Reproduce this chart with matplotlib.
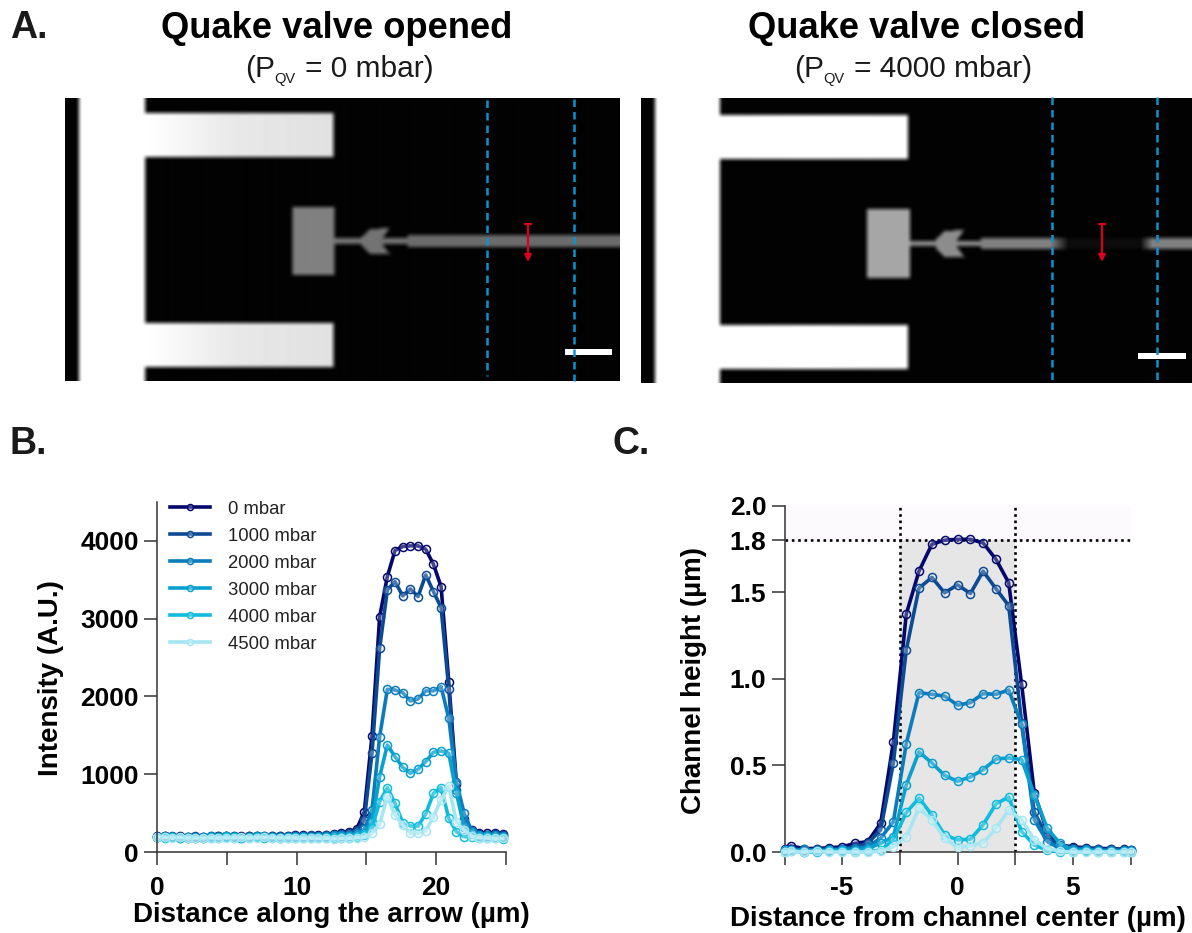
import matplotlib
matplotlib.use("Agg")
import matplotlib.pyplot as plt
import numpy as np
from matplotlib.path import Path as MplPath

W, H = 1192, 933

plt.rcParams["font.family"] = ["Liberation Sans", "DejaVu Sans"]

pressures = ["0 mbar", "1000 mbar", "2000 mbar", "3000 mbar", "4000 mbar", "4500 mbar"]
colors = ["#05086b", "#0d4a94", "#0a7cbc", "#07a0cf", "#0fbcdc", "#a6e6f2"]

# panel B
distance = [0.0, 0.55, 1.1, 1.65, 2.2, 2.75, 3.3, 3.85, 4.4, 4.95, 5.5, 6.05, 6.6, 7.15, 7.7, 8.25,
            8.8, 9.35, 9.9, 10.45, 11.0, 11.55, 12.1, 12.65, 13.2, 13.75, 14.3, 14.85, 15.4, 15.95,
            16.5, 17.05, 17.6, 18.15, 18.7, 19.25, 19.8, 20.35, 20.9, 21.45, 22.0, 22.55, 23.1,
            23.65, 24.2, 24.75]
intensity_0 = [200, 200, 195, 200, 195, 195, 190, 190, 205, 210, 195, 205, 200, 205, 200, 200,
               205, 205, 215, 225, 210, 215, 225, 230, 240, 262, 292, 519, 1492, 3027,
               3541, 3876, 3927, 3936, 3936, 3893, 3700, 3413, 2191, 875, 424, 283, 240, 240, 240, 230]
intensity_1000 = [195, 205, 200, 190, 195, 200, 190, 200, 200, 205, 205, 195, 210, 200, 195, 200,
                  200, 205, 210, 205, 215, 210, 220, 225, 230, 240, 270, 412, 1269, 2620,
                  3370, 3476, 3293, 3383, 3284, 3563, 3349, 3142, 2100, 800, 380, 270, 230, 225, 230, 215]
intensity_2000 = [190, 200, 195, 185, 190, 190, 195, 205, 195, 205, 200, 190, 195, 200, 205, 195,
                  190, 195, 205, 200, 195, 205, 200, 215, 220, 225, 250, 290, 540, 1483,
                  2092, 2083, 2049, 1942, 1968, 2071, 2071, 2126, 1719, 900, 497, 270, 225, 220, 215, 210]
intensity_3000 = [195, 190, 190, 195, 185, 180, 185, 190, 190, 200, 190, 185, 190, 195, 190, 190,
                  185, 195, 190, 190, 195, 190, 195, 200, 205, 205, 215, 250, 386, 969,
                  1376, 1226, 1089, 1012, 1064, 1162, 1282, 1299, 1270, 755, 322, 240, 205, 200, 195, 190]
intensity_4000 = [190, 185, 190, 180, 185, 175, 175, 180, 185, 190, 180, 185, 180, 190, 185, 180,
                  175, 180, 185, 180, 175, 180, 180, 175, 185, 180, 195, 215, 305, 647,
                  827, 626, 377, 334, 334, 489, 755, 827, 433, 261, 197, 190, 185, 185, 180, 170]
intensity_4500 = [195, 190, 185, 190, 180, 180, 180, 185, 180, 185, 185, 190, 180, 185, 190, 185,
                  180, 185, 180, 175, 180, 175, 180, 170, 175, 175, 185, 190, 240, 360,
                  712, 476, 347, 240, 240, 274, 454, 669, 849, 386, 283, 200, 185, 180, 175, 175]
intensity = [intensity_0, intensity_1000, intensity_2000, intensity_3000, intensity_4000, intensity_4500]

# panel C
center = [-7.5, -7.22, -6.66, -6.11, -5.55, -5.0, -4.44, -3.89, -3.33, -2.78, -2.22, -1.67, -1.11,
          -0.56, 0.0, 0.56, 1.11, 1.67, 2.22, 2.78, 3.33, 3.89, 4.44, 5.0, 5.55, 6.11, 6.66, 7.22, 7.5]
height_0 = [0.02, 0.035, 0.02, 0.02, 0.025, 0.03, 0.05, 0.06, 0.166, 0.636, 1.374, 1.621, 1.776,
            1.80, 1.805, 1.805, 1.784, 1.689, 1.554, 0.968, 0.34, 0.118, 0.04, 0.03, 0.025, 0.02, 0.02, 0.015, 0.01]
height_1000 = [0.01, 0.02, 0.01, 0.015, 0.015, 0.02, 0.03, 0.05, 0.128, 0.514, 1.167, 1.523, 1.585,
               1.496, 1.542, 1.492, 1.621, 1.519, 1.422, 0.746, 0.23, 0.09, 0.03, 0.025, 0.02, 0.015, 0.015, 0.01, 0.01]
height_2000 = [0.01, 0.01, 0.015, 0.01, 0.01, 0.015, 0.02, 0.03, 0.08, 0.175, 0.626, 0.92, 0.91,
               0.90, 0.848, 0.862, 0.914, 0.91, 0.935, 0.736, 0.186, 0.06, 0.02, 0.015, 0.015, 0.01, 0.01, 0.01, 0.01]
height_3000 = [0.01, 0.01, 0.0, 0.005, 0.01, 0.01, 0.01, 0.02, 0.05, 0.089, 0.388, 0.578, 0.514,
               0.442, 0.408, 0.433, 0.475, 0.537, 0.543, 0.533, 0.33, 0.137, 0.05, 0.01, 0.01, 0.005, 0.005, 0.005, 0.0]
height_4000 = [0.0, 0.005, 0.0, 0.0, 0.005, 0.005, 0.0, 0.005, 0.01, 0.07, 0.228, 0.311, 0.214,
               0.099, 0.07, 0.074, 0.157, 0.278, 0.317, 0.118, 0.04, 0.01, 0.0, 0.0, 0.005, 0.0, 0.0, 0.0, 0.0]
height_4500 = [0.0, 0.005, 0.0, 0.005, 0.0, 0.0, 0.0, 0.0, 0.005, 0.03, 0.089, 0.253, 0.186,
               0.08, 0.027, 0.035, 0.054, 0.137, 0.242, 0.186, 0.07, 0.02, 0.005, 0.0, 0.0, 0.0, 0.0, 0.0, 0.0]
heights = [height_0, height_1000, height_2000, height_3000, height_4000, height_4500]

fig = plt.figure(figsize=(W / 100, H / 100), dpi=100)


def px_axes(x0, y0, x1, y1):
    # x0,y0 = top left, x1,y1 = bottom right, in image pixels
    return fig.add_axes([x0 / W, 1 - y1 / H, (x1 - x0) / W, (y1 - y0) / H])


def px_text(x, y, s, **kw):
    fig.text(x / W, 1 - y / H, s, ha=kw.pop("ha", "center"), va=kw.pop("va", "center"), **kw)


def blur(img, n):
    kernel = np.ones(n) / n
    pad = n
    img = np.pad(img, pad, mode="edge")
    img = np.apply_along_axis(lambda r: np.convolve(r, kernel, mode="same"), 0, img)
    img = np.apply_along_axis(lambda r: np.convolve(r, kernel, mode="same"), 1, img)
    return img[pad:-pad, pad:-pad]


def micrograph(left, top, right, bottom, bar, fingers, pad_box, head, thin, channel, levels, gap=None):
    nx, ny = right - left, bottom - top
    img = np.full((ny, nx), 0.01)

    def fill(x0, x1, y0, y1, v):
        img[max(y0 - top, 0):max(y1 - top, 0), max(x0 - left, 0):max(x1 - left, 0)] = v

    fill(bar[0], bar[1], top, bottom, 1.0)
    for f in fingers:
        # fingers fade slightly from the bright bar towards their tips
        shade = np.interp(np.arange(bar[1], f[0]), [bar[1], bar[1] + 90, f[0]], [1.0, levels[0] + 0.03, levels[0]])
        img[f[1] - top:f[2] - top, bar[1] - left:f[0] - left] = shade
    fill(*pad_box, levels[1])
    fill(pad_box[1], channel[0], thin[0], thin[1], levels[2])
    fill(channel[0], right, channel[1], channel[2], levels[3])
    gx, gy = np.meshgrid(np.arange(left, right), np.arange(top, bottom))
    inside = MplPath(head).contains_points(np.column_stack([gx.ravel(), gy.ravel()]))
    img[inside.reshape(img.shape)] = levels[2]
    img = blur(blur(img, 5), 3)
    if gap is not None:
        # pinched section of the channel under the closed valve
        g0, g1, g2, g3 = gap
        ramp = np.interp(np.arange(left, right), [g0, g1, g2, g3], [1, 0.1, 0.1, 1])
        rows = np.arange(top, bottom)
        band = (rows > channel[1] - 5) & (rows < channel[2] + 5)
        img[band, :] = (img[band, :] * ramp[None, :]).clip(0.01, 1)
    ax = px_axes(left, top, right, bottom)
    ax.imshow(img, cmap="gray", vmin=0, vmax=1, extent=(left, right, bottom, top),
              interpolation="bilinear", aspect="auto")
    ax.set_xlim(left, right)
    ax.set_ylim(bottom, top)
    ax.axis("off")
    return ax


def overlays(ax, dashes, arrow_x, bar_x, bar_y):
    for x, y0, y1 in dashes:
        ax.plot([x, x], [y0, y1], color="#0b93d0", lw=1.8, ls=(0, (3, 2)), clip_on=False)
    ax.plot([arrow_x - 3, arrow_x + 3], [224, 224], color="#d8001c", lw=1.5)
    ax.annotate("", xy=(arrow_x, 262), xytext=(arrow_x, 224),
                arrowprops=dict(arrowstyle="-|>", color="#d8001c", lw=1.6, mutation_scale=10,
                                shrinkA=0, shrinkB=0))
    ax.fill_between(bar_x, bar_y[0], bar_y[1], color="white", lw=0)


ax_l = micrograph(65, 98, 619, 381, (79, 145), [(333, 113, 157), (333, 323, 367)], (292, 334, 207, 275),
                  [(361, 236), (369, 229), (389, 227), (379, 241), (389, 254), (369, 253), (361, 245)],
                  (238, 244), (407, 235, 247), (0.88, 0.5, 0.45, 0.42))
overlays(ax_l, [(487, 100, 376), (574, 99, 381)], 528, [565, 612], (349, 355))
ax_r = micrograph(641, 98, 1192, 383, (655, 720), [(908, 115, 159), (908, 325, 369)], (867, 910, 209, 278),
                  [(936, 238), (944, 231), (964, 229), (954, 243), (964, 257), (944, 256), (936, 248)],
                  (241, 246), (981, 238, 249), (1.0, 0.65, 0.55, 0.5), gap=(1050, 1068, 1140, 1152))
overlays(ax_r, [(1052, 97, 382), (1157, 97, 382)], 1102, [1138, 1186], (353, 359))

# panel letters and titles
for x, y, s in [(10, 28, "A."), (10, 444, "B."), (612, 444, "C.")]:
    px_text(x, y, s, ha="left", fontsize=27, fontweight="bold", color="#1a1a1a")
px_text(337, 28, "Quake valve opened", fontsize=26.2, fontweight="bold", color="black")
px_text(917, 28, "Quake valve closed", fontsize=26.2, fontweight="bold", color="black")
for x0, rest in [(245, "= 0 mbar)"), (794, "= 4000 mbar)")]:
    px_text(x0, 69, "(P", ha="left", fontsize=21.5, color="#1a1a1a")
    px_text(x0 + 29, 79, "QV", ha="left", fontsize=10.5, color="#1a1a1a")
    px_text(x0 + 60, 69, rest, ha="left", fontsize=21.5, color="#1a1a1a")


def style_axes(ax):
    for side in ("top", "right"):
        ax.spines[side].set_visible(False)
    for side in ("left", "bottom"):
        ax.spines[side].set_linewidth(1.1)
        ax.spines[side].set_color("#333333")
    ax.tick_params(length=9.5, width=1.1, color="#333333", labelsize=19)
    ax.tick_params(axis="x", pad=8)
    ax.tick_params(axis="y", pad=3.5)
    for label in ax.get_xticklabels() + ax.get_yticklabels():
        label.set_fontweight("bold")
    ax.patch.set_alpha(0)


marker_face = (1, 1, 1, 0.25)

# panel B
ax_b = px_axes(157, 502, 506, 852)
for values, color, label in zip(intensity, colors, pressures):
    ax_b.plot(distance, values, color=color, lw=2.6, marker="o", ms=5.8, mfc=marker_face, mec=color,
              mew=1.1, label=label, clip_on=False)
ax_b.set_xlim(0, 25)
ax_b.set_ylim(0, 4500)
ax_b.set_xticks([0, 5, 10, 15, 20, 25], labels=["0", "", "10", "", "20", ""])
ax_b.set_yticks([0, 1000, 2000, 3000, 4000])
style_axes(ax_b)
handles, labels = ax_b.get_legend_handles_labels()
leg = ax_b.legend(handles, labels, loc="upper left", bbox_to_anchor=(0.0, 1.04), frameon=False, fontsize=13.3,
                  handlelength=2.16, handletextpad=1.0, labelspacing=0.54, borderpad=0.2, borderaxespad=0.5,
                  markerscale=0.75, labelcolor="#222222")
px_text(331, 915, "Distance along the arrow (µm)", fontsize=20, fontweight="bold")
px_text(51, 678, "Intensity (A.U.)", fontsize=20, fontweight="bold", rotation=90)

# panel C
ax_c = px_axes(784.5, 505.5, 1130.5, 852)
ax_c.axhspan(1.8, 2.0, color="#fcfafd", lw=0, zorder=0)
ax_c.fill_between([-2.5, 2.5], 0, 1.8, color="#e6e6e6", lw=0, zorder=0)
for x in (-2.5, 2.5):
    ax_c.plot([x, x], [0, 2.0], color="black", lw=1.9, ls=(0, (1, 1.4)), zorder=1)
ax_c.plot([-7.5, 7.5], [1.8, 1.8], color="black", lw=1.9, ls=(0, (1, 1.4)), zorder=1)
for values, color in zip(heights, colors):
    ax_c.plot(center, values, color=color, lw=2.6, marker="o", ms=5.8, mfc=marker_face, mec=color,
              mew=1.1, clip_on=False, zorder=3)
ax_c.set_xlim(-7.5, 7.5)
ax_c.set_ylim(0, 2.0)
ax_c.set_xticks([-7.5, -5, -2.5, 0, 2.5, 5, 7.5], labels=["", "-5", "", "0", "", "5", ""])
ax_c.set_yticks([0, 0.5, 1.0, 1.5, 1.8, 2.0], labels=["0.0", "0.5", "1.0", "1.5", "1.8", "2.0"])
style_axes(ax_c)
px_text(958, 919, "Distance from channel center (µm)", fontsize=20, fontweight="bold")
px_text(694, 680, "Channel height (µm)", fontsize=20, fontweight="bold", rotation=90)

fig.savefig("out.png", dpi=100)
plt.close(fig)
